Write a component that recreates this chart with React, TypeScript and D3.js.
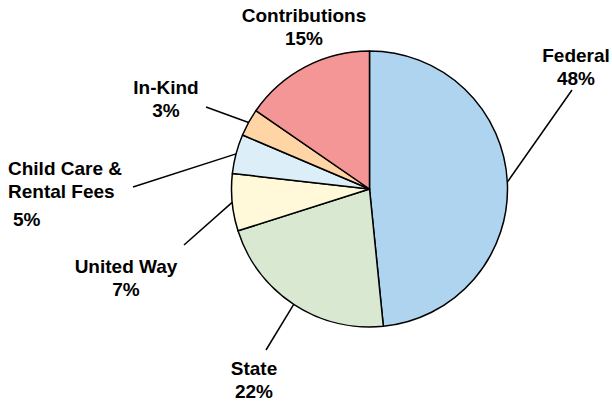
import React from "react";
import * as d3 from "d3";

const categories = ["Federal", "State", "United Way", "Child Care & Rental Fees", "In-Kind", "Contributions"];
const values = [48.4, 21.7, 6.7, 4.6, 3.2, 15.4];
const colors = ["#aed4f0", "#d9e9d1", "#fff9da", "#dceef7", "#ffd5a5", "#f59696"];

// label layout: lines of text, anchor, x, first baseline, leader end
const labelLines = [
  ["Federal", "%"],
  ["State", "%"],
  ["United Way", "%"],
  ["Child Care &", "Rental Fees", "%"],
  ["In-Kind", "%"],
  ["Contributions", "%"],
];
const labelLayout = [
  { x: 576, y: 62, anchor: "middle", dy: [0, 23], leader: [572, 90] },
  { x: 254, y: 375, anchor: "middle", dy: [0, 23], leader: [266, 350] },
  { x: 126, y: 273, anchor: "middle", dy: [0, 23], leader: [184, 245] },
  { x: 8, y: 175, anchor: "start", dy: [0, 23, 51], dx: [0, 0, 5], leader: [133, 187] },
  { x: 166, y: 94, anchor: "middle", dy: [0, 23], leader: [206, 107] },
  { x: 304, y: 22, anchor: "middle", dy: [0, 23], leader: null },
];

export default function App() {
  const W = 612, H = 404;
  const cx = 369.5, cy = 189, r = 138;
  const pie = d3.pie<number>().sort(null).value((d) => d);
  const arcs = pie(values);
  const arc = d3.arc<d3.PieArcDatum<number>>().innerRadius(0).outerRadius(r);
  const edge = d3.arc<d3.PieArcDatum<number>>().innerRadius(r).outerRadius(r);
  const total = d3.sum(values);

  return (
    <svg width={W} height={H} style={{ position: "absolute", left: 0, top: 0 }}>
      <rect width={W} height={H} fill="#fff" />
      <g transform={`translate(${cx},${cy})`}>
        {arcs.map((a, i) => (
          <path key={i} d={arc(a) || ""} fill={colors[i]} stroke="#000" strokeWidth={1.5} strokeLinejoin="round" />
        ))}
      </g>
      {arcs.map((a, i) => {
        const L = labelLayout[i];
        if (!L.leader) return null;
        const [sx, sy] = edge.centroid(a);
        return (
          <line key={"l" + i} x1={cx + sx} y1={cy + sy} x2={L.leader[0]} y2={L.leader[1]} stroke="#000" strokeWidth={1.5} />
        );
      })}
      {categories.map((c, i) => {
        const L = labelLayout[i];
        const pct = Math.round((values[i] / total) * 100) + "%";
        return (
          <text key={"t" + i} fontFamily="'Liberation Sans', Arial, sans-serif" fontWeight="bold" fontSize={19} fill="#000" textAnchor={L.anchor as any}>
            {labelLines[i].map((ln, j) => (
              <tspan key={j} x={L.x + ((L as any).dx ? (L as any).dx[j] : 0)} y={L.y + L.dy[j]}>
                {ln === "%" ? pct : ln}
              </tspan>
            ))}
          </text>
        );
      })}
    </svg>
  );
}
